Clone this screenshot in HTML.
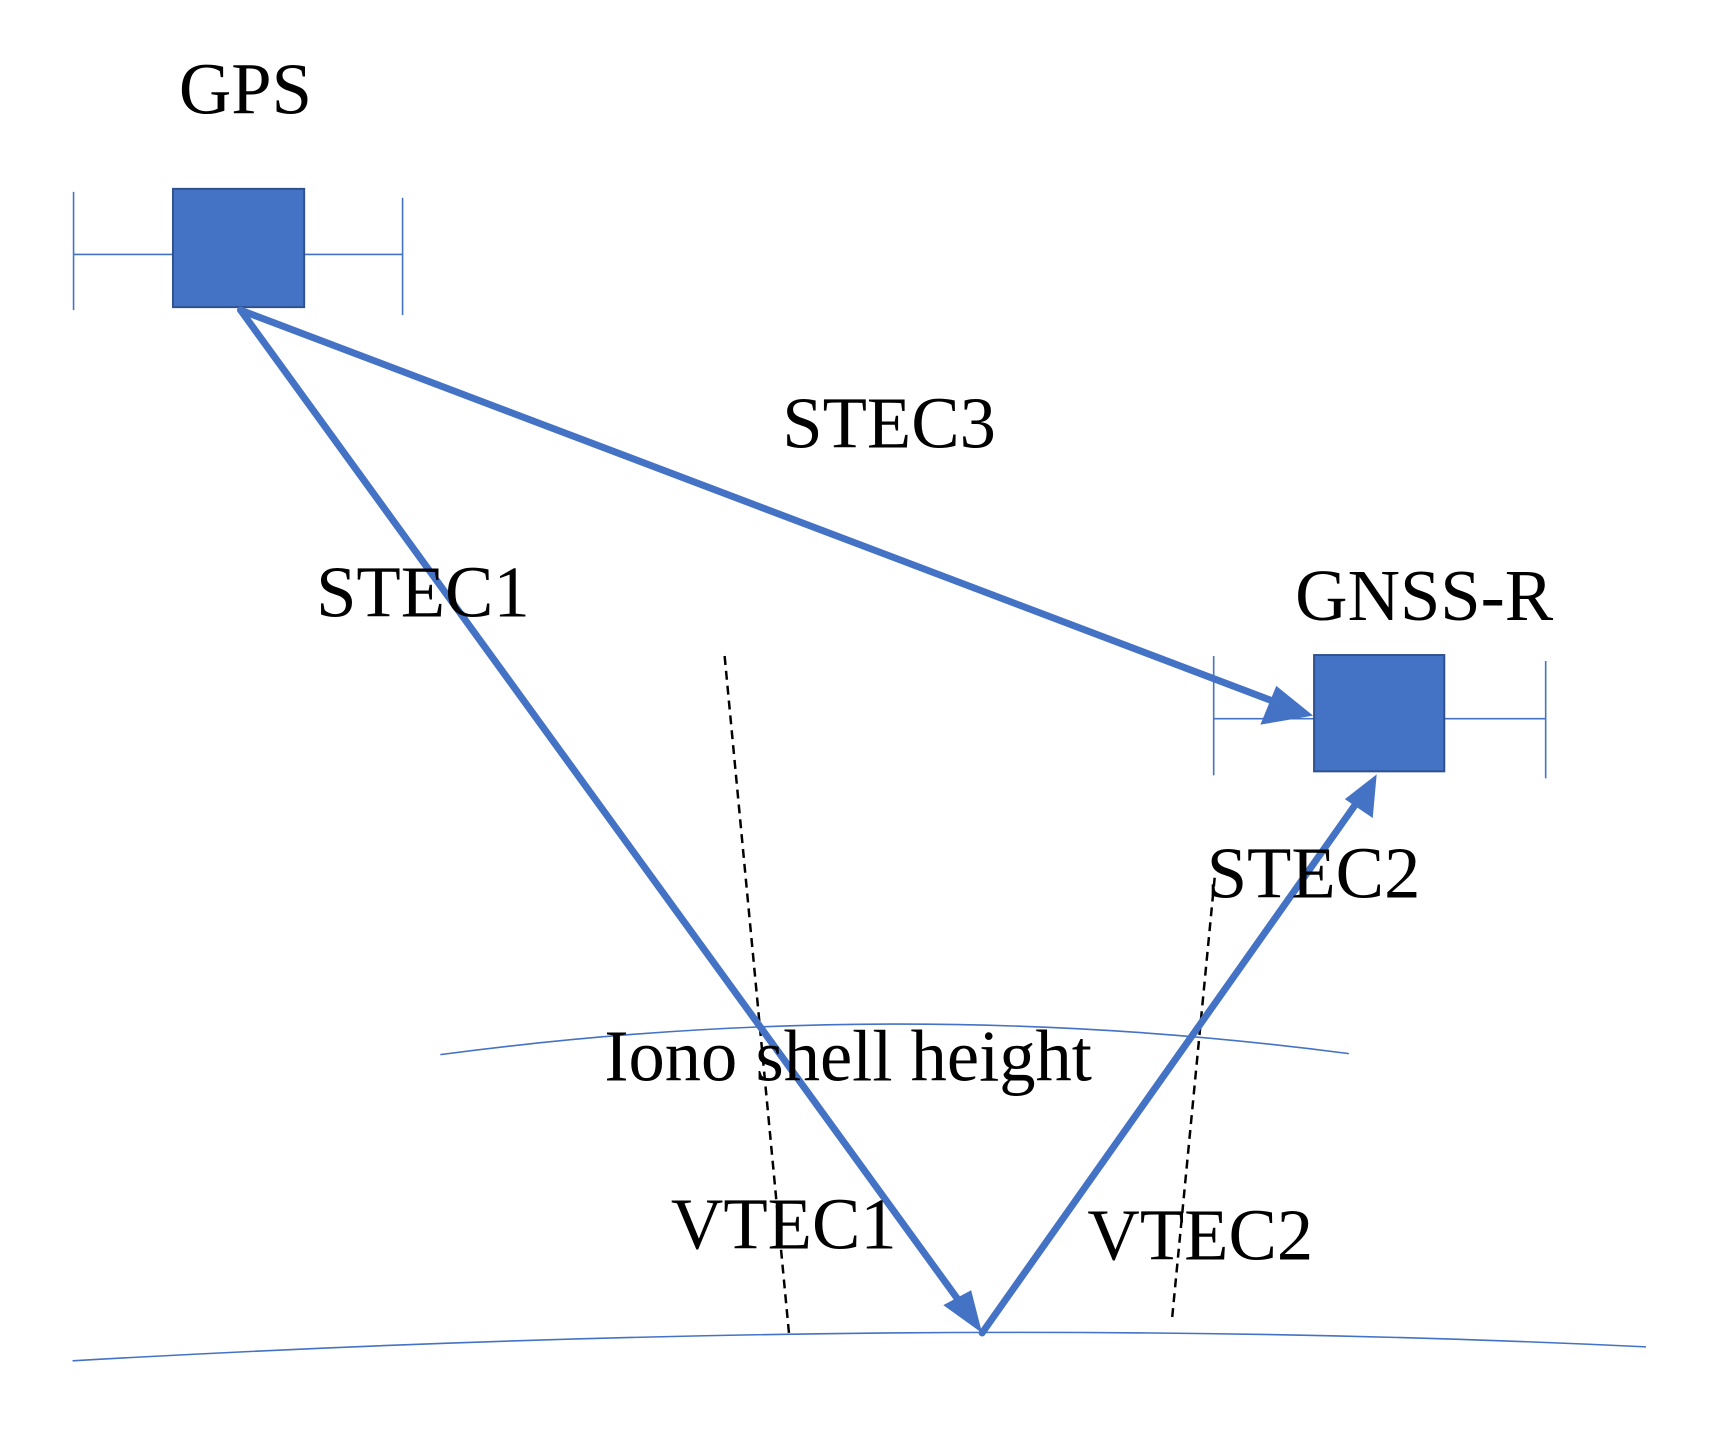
<!DOCTYPE html>
<html><head><style>html,body{margin:0;padding:0;background:#fff}</style></head>
<body>
<svg width="1722" height="1441" viewBox="0 0 1722 1441" xmlns="http://www.w3.org/2000/svg">
<g transform="scale(0.994)">
<g fill="none" stroke="#4472c4" stroke-width="1.6">
<line x1="74" y1="256" x2="405" y2="256"/>
<line x1="74" y1="193" x2="74" y2="312"/>
<line x1="405" y1="199" x2="405" y2="317"/>
<line x1="1221" y1="723" x2="1555" y2="723"/>
<line x1="1221" y1="660" x2="1221" y2="780"/>
<line x1="1555" y1="665" x2="1555" y2="783"/>
<path d="M443,1061 Q900,1000 1357,1060"/>
<path d="M73,1369 Q930,1320 1656,1355"/>
</g>
<rect x="174" y="190" width="132" height="119" fill="#4472c4" stroke="#2f528f" stroke-width="2"/>
<rect x="1322" y="659" width="131" height="117" fill="#4472c4" stroke="#2f528f" stroke-width="2"/>
<g stroke="#000" stroke-width="2.5" stroke-dasharray="9,6">
<line x1="729" y1="660" x2="794" y2="1344"/>
<line x1="1222" y1="883" x2="1179" y2="1328"/>
</g>
<g stroke="#4472c4" stroke-width="7" fill="none" stroke-linecap="round">
<line x1="242" y1="312" x2="1285" y2="707"/>
<line x1="242" y1="312" x2="970" y2="1316"/>
<line x1="988" y1="1341" x2="1366" y2="806"/>
</g>
<g fill="#4472c4">
<polygon points="1321,720 1268,729 1284,690"/>
<polygon points="988,1341 949,1313 977,1298"/>
<polygon points="1385,779 1381,823 1353,804"/>
</g>
<g font-family="Liberation Serif, serif" font-size="73" fill="#000">
<text x="180" y="114">GPS</text>
<text x="1303" y="624">GNSS-R</text>
<text x="787" y="450">STEC3</text>
<text x="318" y="620">STEC1</text>
<text x="1214" y="903">STEC2</text>
<text x="608" y="1087">Iono shell height</text>
<text x="675" y="1256">VTEC1</text>
<text x="1094" y="1267">VTEC2</text>
</g>
</g>
</svg>
</body></html>
